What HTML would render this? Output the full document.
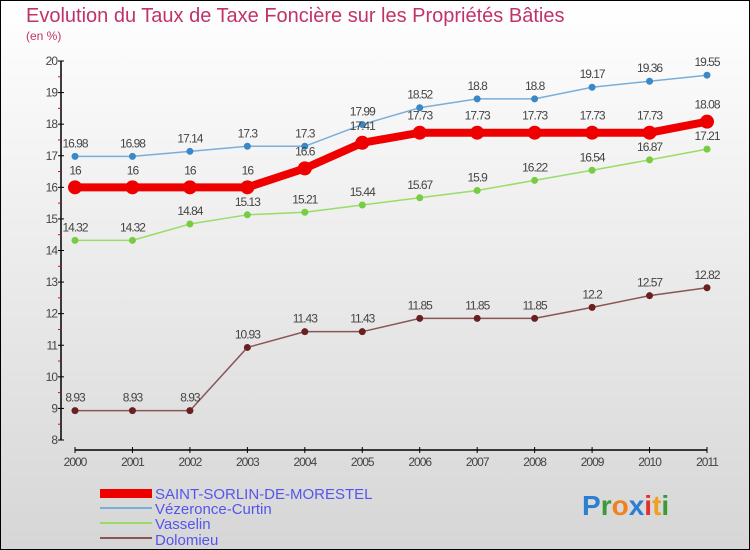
<!DOCTYPE html>
<html><head><meta charset="utf-8"><style>
body{margin:0}
#wrap{width:750px;height:550px;position:relative;overflow:hidden}
svg{display:block;font-family:"Liberation Sans",sans-serif}
</style></head><body><div id="wrap">
<svg id="chart" width="750" height="550">
<defs><linearGradient id="bg" x1="0" y1="0" x2="0" y2="1"><stop offset="0" stop-color="#ffffff"/><stop offset="1" stop-color="#d6d6d6"/></linearGradient></defs>
<rect x="0.5" y="0.5" width="749" height="549" fill="url(#bg)" stroke="#000"/>
<text x="26" y="22" font-size="20" fill="#c0336a">Evolution du Taux de Taxe Foncière sur les Propriétés Bâties</text>
<text x="26" y="40" font-size="12" fill="#c0336a">(en %)</text>
<g id="axes"></g><g id="series"></g>
<g>
<rect x="100" y="489" width="52" height="9" fill="#ee0000"/>
<text x="155" y="499" font-size="15" fill="#5555ee">SAINT-SORLIN-DE-MORESTEL</text>
<rect x="100" y="507" width="52" height="2" fill="#7aaed8"/>
<text x="155" y="514" font-size="15" fill="#5555ee">Vézeronce-Curtin</text>
<rect x="100" y="522" width="52" height="2" fill="#99dd66"/>
<text x="155" y="529" font-size="15" fill="#5555ee">Vasselin</text>
<rect x="100" y="537" width="52" height="2" fill="#8a5555"/>
<text x="155" y="545" font-size="15" fill="#5555ee">Dolomieu</text>
</g>
<text x="582" y="515" font-size="28" font-weight="bold"><tspan fill="#2a7fd0">P</tspan><tspan fill="#3a9a3a">r</tspan><tspan fill="#f08020">o</tspan><tspan fill="#2a7fd0">x</tspan><tspan fill="#e03030">i</tspan><tspan fill="#f0a020">t</tspan><tspan fill="#3a9a3a">i</tspan></text>
</svg></div>
<script>
const years=[2000,2001,2002,2003,2004,2005,2006,2007,2008,2009,2010,2011];
const saintSorlin=[16,16,16,16,16.6,17.41,17.73,17.73,17.73,17.73,17.73,18.08];
const vezeronce=[16.98,16.98,17.14,17.3,17.3,17.99,18.52,18.8,18.8,19.17,19.36,19.55];
const vasselin=[14.32,14.32,14.84,15.13,15.21,15.44,15.67,15.9,16.22,16.54,16.87,17.21];
const dolomieu=[8.93,8.93,8.93,10.93,11.43,11.43,11.85,11.85,11.85,12.2,12.57,12.82];
const yTicks=[8,9,10,11,12,13,14,15,16,17,18,19,20];
const NS="http://www.w3.org/2000/svg";
const xS=i=>75+i*(707-75)/(years.length-1);
const yS=v=>440-(v-8)*(440-61)/12;
function mk(tag,attrs,parent,txt){const e=document.createElementNS(NS,tag);for(const k in attrs)e.setAttribute(k,attrs[k]);if(txt!==undefined)e.textContent=txt;parent.appendChild(e);return e;}
const ax=document.getElementById('axes');
let yl=mk('line',{x1:61,y1:61,x2:61,y2:440,stroke:'#000','stroke-width':1.5},ax);


let xl=mk('line',{x1:75,y1:450,x2:707,y2:450,stroke:'#000','stroke-width':1.5},ax);


yTicks.forEach(t=>{const y=yS(t);
 mk('line',{x1:58,y1:y,x2:64,y2:y,stroke:'#000'},ax);
 if(t<20)mk('line',{x1:58,y1:y-15.8,x2:61,y2:y-15.8,stroke:'#e00'},ax);
 const l=mk('text',{x:57,y:y+4,'font-size':12,'text-anchor':'end',fill:'#444','letter-spacing':'-1'},ax,String(t));
 
 });
years.forEach((yr,i)=>{const x=xS(i);
 mk('line',{x1:x,y1:447,x2:x,y2:453,stroke:'#000'},ax);
 const l=mk('text',{x:x,y:466,'font-size':12,'text-anchor':'middle',fill:'#444','letter-spacing':'-1'},ax,String(yr));
 
 });
const sg=document.getElementById('series');
function draw(vals,name,color,dot,lw,r,dy){
 const g=mk('g',{},sg);
 
 
 const pts=vals.map((v,i)=>xS(i)+','+yS(v)).join(' ');
 mk('polyline',{points:pts,fill:'none',stroke:color,'stroke-width':lw},g);
 vals.forEach((v,i)=>{const c=mk('circle',{cx:xS(i),cy:yS(v),r:r,fill:dot},g);
  
  
  const t=mk('text',{x:xS(i),y:yS(v)+dy,'font-size':12,'text-anchor':'middle',fill:'#444','letter-spacing':'-1'},g,String(v));
  
  });
}
draw(dolomieu,'dolomieu','#8a5555','#6a2020',1.5,3.5,-9);
draw(vasselin,'vasselin','#99dd66','#77cc44',1.5,3.5,-9);
draw(vezeronce,'vezeronce','#7aaed8','#3a88c8',1.5,3.5,-9);
draw(saintSorlin,'saint-sorlin','#ee0000','#ee0000',8,7,-13);
</script></body></html>
